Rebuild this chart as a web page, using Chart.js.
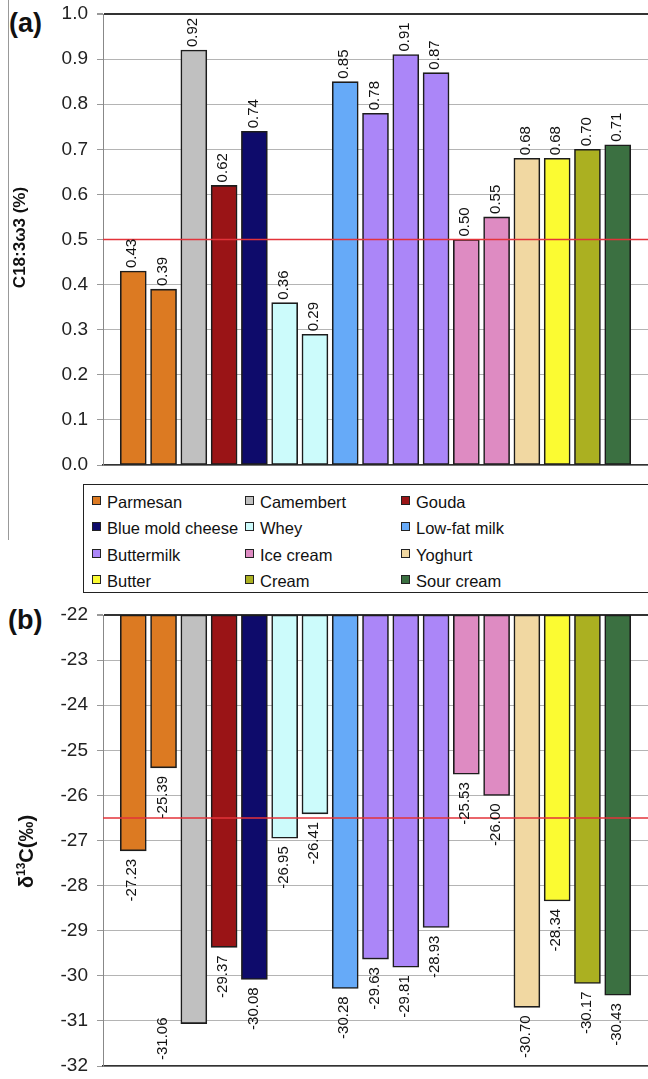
<!DOCTYPE html>
<html>
<head>
<meta charset="utf-8">
<script src="https://cdn.jsdelivr.net/npm/chart.js@4.4.1/dist/chart.umd.min.js"></script>
<style>
  html, body { margin: 0; padding: 0; background: #fff; }
  body { width: 648px; height: 1079px; position: relative; overflow: hidden; font-family: 'Liberation Sans', Arial, sans-serif; }
  .panel { position: absolute; left: 0; }
  .tag { position: absolute; font-weight: bold; font-size: 27px; color: #111; }
  .frame { position: absolute; left: 8px; top: 0; height: 540px; border-left: 1px solid #999; }
  #legend { position: absolute; left: 83px; top: 484px; width: 570px; height: 109px; border: 1.5px solid #222;
            box-sizing: border-box; padding: 4px 0 0 8px; display: grid;
            grid-template-columns: 153px 156px auto; grid-auto-rows: 26.5px; font-size: 16.5px; color: #111; }
  .item { display: flex; align-items: center; white-space: nowrap; }
  .sw { width: 9px; height: 9px; border: 1px solid #222; box-sizing: border-box; margin-right: 6px; flex: none; position: relative; top: -2px; }
</style>
</head>
<body>
<div class="frame"></div>
<div class="tag" style="left:9px; top:8px;">(a)</div>
<div class="tag" style="left:8px; top:605px;">(b)</div>
<div class="panel" style="top:0px;"><canvas id="chartA" width="648" height="475"></canvas></div>
<div id="legend"></div>
<div class="panel" style="top:600px;"><canvas id="chartB" width="648" height="479"></canvas></div>
<script>
// ---------- data ----------
const products = ['Parmesan','Camembert','Gouda','Blue mold cheese','Whey','Low-fat milk','Buttermilk','Ice cream','Yoghurt','Butter','Cream','Sour cream'];
const productColors = ['#dc7a22','#c0c0c0','#9a1416','#0e0b6b','#ccfbfb','#66aaf8','#ab86f8','#de8bc2','#f1d8a2','#fbfb32','#abb021','#3b7041'];
const barProducts = ['Parmesan','Parmesan','Camembert','Gouda','Blue mold cheese','Whey','Whey','Low-fat milk','Buttermilk','Buttermilk','Buttermilk','Ice cream','Ice cream','Yoghurt','Butter','Cream','Sour cream'];
const c183Values = [0.43,0.39,0.92,0.62,0.74,0.36,0.29,0.85,0.78,0.91,0.87,0.50,0.55,0.68,0.68,0.70,0.71];
const d13cValues = [-27.23,-25.39,-31.06,-29.37,-30.08,-26.95,-26.41,-30.28,-29.63,-29.81,-28.93,-25.53,-26.00,-30.70,-28.34,-30.17,-30.43];
const c183Axis = { min: 0, max: 1.0, step: 0.1, decimals: 1, ref: 0.5,
                   titleParts: [['C18:3\u03c93 (%)', 17, 0]] };
const d13cAxis = { min: -32, max: -22, step: 1, decimals: 0, ref: -26.5,
                   titleParts: [['\u03b4', 20, 0], ['13', 12, -8], ['C(\u2030)', 20, 0]] };

// ---------- legend ----------
const legend = document.getElementById('legend');
products.forEach((p, i) => {
  const it = document.createElement('div'); it.className = 'item';
  const sw = document.createElement('span'); sw.className = 'sw'; sw.style.background = productColors[i];
  const tx = document.createElement('span'); tx.textContent = p;
  it.appendChild(sw); it.appendChild(tx); legend.appendChild(it);
});

const FONT = "'Liberation Sans', Arial, sans-serif";
const colorOf = p => productColors[products.indexOf(p)];
const labels = [''].concat(barProducts, ['']);
const barColors = [null].concat(barProducts.map(colorOf), [null]);

const refLinePlugin = {
  id: 'refLine',
  afterDatasetsDraw(chart) {
    const cfg = chart.options.plugins.refLine;
    const { ctx, chartArea } = chart;
    const y = chart.scales.y.getPixelForValue(cfg.value);
    ctx.save();
    ctx.strokeStyle = '#e3333a'; ctx.lineWidth = 1.5;
    ctx.beginPath(); ctx.moveTo(chartArea.left, y); ctx.lineTo(chartArea.right, y); ctx.stroke();
    ctx.restore();
  }
};

// rotated y-axis title with optional superscript parts
const yTitlePlugin = {
  id: 'yTitle',
  afterDraw(chart) {
    const cfg = chart.options.plugins.yTitle;
    const { ctx, chartArea } = chart;
    ctx.save();
    ctx.fillStyle = '#111'; ctx.textBaseline = 'alphabetic'; ctx.textAlign = 'left';
    let total = 0;
    const widths = cfg.parts.map(([t, s]) => { ctx.font = 'bold ' + s + 'px ' + FONT; const w = ctx.measureText(t).width; total += w; return w; });
    const cy = (chartArea.top + chartArea.bottom) / 2 + cfg.shift;
    ctx.translate(cfg.baseX, cy + total / 2);
    ctx.rotate(-Math.PI / 2);
    let x = 0;
    cfg.parts.forEach(([t, s, dy], i) => {
      ctx.font = 'bold ' + s + 'px ' + FONT;
      ctx.fillText(t, x, dy);
      x += widths[i];
    });
    ctx.restore();
  }
};

const valueLabelPlugin = {
  id: 'valueLabels',
  afterDatasetsDraw(chart) {
    const cfg = chart.options.plugins.valueLabels;
    const { ctx, chartArea } = chart;
    const ys = chart.scales.y, xs = chart.scales.x;
    const catW = xs.getPixelForValue(1) - xs.getPixelForValue(0);
    const meta = chart.getDatasetMeta(0);
    ctx.save();
    ctx.font = '15px ' + FONT; ctx.fillStyle = '#111'; ctx.textBaseline = 'middle';
    cfg.values.forEach((v, i) => {
      const bar = meta.data[i + 1];
      const txt = v.toFixed(2);
      const w = ctx.measureText(txt).width;
      const yv = ys.getPixelForValue(v);
      let x = bar.x, y, align;
      if (cfg.mode === 'up') { y = yv - 3; align = 'left'; }
      else {
        y = yv + 8; align = 'right';
        if (y + w > chartArea.bottom - 2) { x = bar.x - catW; y = chartArea.bottom - 6; align = 'left'; }
      }
      ctx.save(); ctx.translate(x - 1, y); ctx.rotate(-Math.PI / 2);
      ctx.textAlign = align; ctx.fillText(txt, 0, 0); ctx.restore();
    });
    ctx.restore();
  }
};

function makeChart(id, values, axis, mode, padTop, padBottom, titleBaseX, titleShift) {
  const data = mode === 'up'
    ? [null].concat(values, [null])
    : [null].concat(values.map(v => [axis.max, v]), [null]);
  const near = (a, b) => Math.abs(a - b) < 1e-6;
  return new Chart(document.getElementById(id), {
    type: 'bar',
    data: { labels, datasets: [{ data, backgroundColor: barColors, borderColor: '#1c1c1c', borderWidth: 1.6, borderSkipped: false, barThickness: 26 }] },
    options: {
      responsive: false, animation: false, devicePixelRatio: 1,
      layout: { padding: { top: padTop, bottom: padBottom, left: 0, right: 0 } },
      plugins: { legend: { display: false }, tooltip: { enabled: false },
        refLine: { value: axis.ref }, valueLabels: { values, mode },
        yTitle: { parts: axis.titleParts, baseX: titleBaseX, shift: titleShift } },
      scales: {
        x: { offset: false, ticks: { display: false }, grid: { display: false, drawTicks: false },
             border: { display: true, color: '#333', width: 1.5 } },
        y: {
          min: axis.min, max: axis.max,
          ticks: { stepSize: axis.step, padding: 9, color: '#222', font: { family: FONT, size: 19 },
                   callback: v => Number(v).toFixed(axis.decimals) },
          grid: { color: c => near(c.tick.value, axis.max) ? '#333' : '#b4b4b4',
                  lineWidth: c => near(c.tick.value, axis.max) ? 2 : 1,
                  tickLength: 6, tickColor: '#999' },
          border: { display: true, color: '#888', width: 1 },
          title: { display: false },
          afterFit: s => { s.width = 103; s.paddingTop = 0; s.paddingBottom = 0; }
        }
      }
    },
    plugins: [refLinePlugin, valueLabelPlugin, yTitlePlugin]
  });
}

makeChart('chartA', c183Values, c183Axis, 'up', 14, 10, 25, -2);
makeChart('chartB', d13cValues, d13cAxis, 'down', 15, 13, 33, 11);
</script>
</body>
</html>
